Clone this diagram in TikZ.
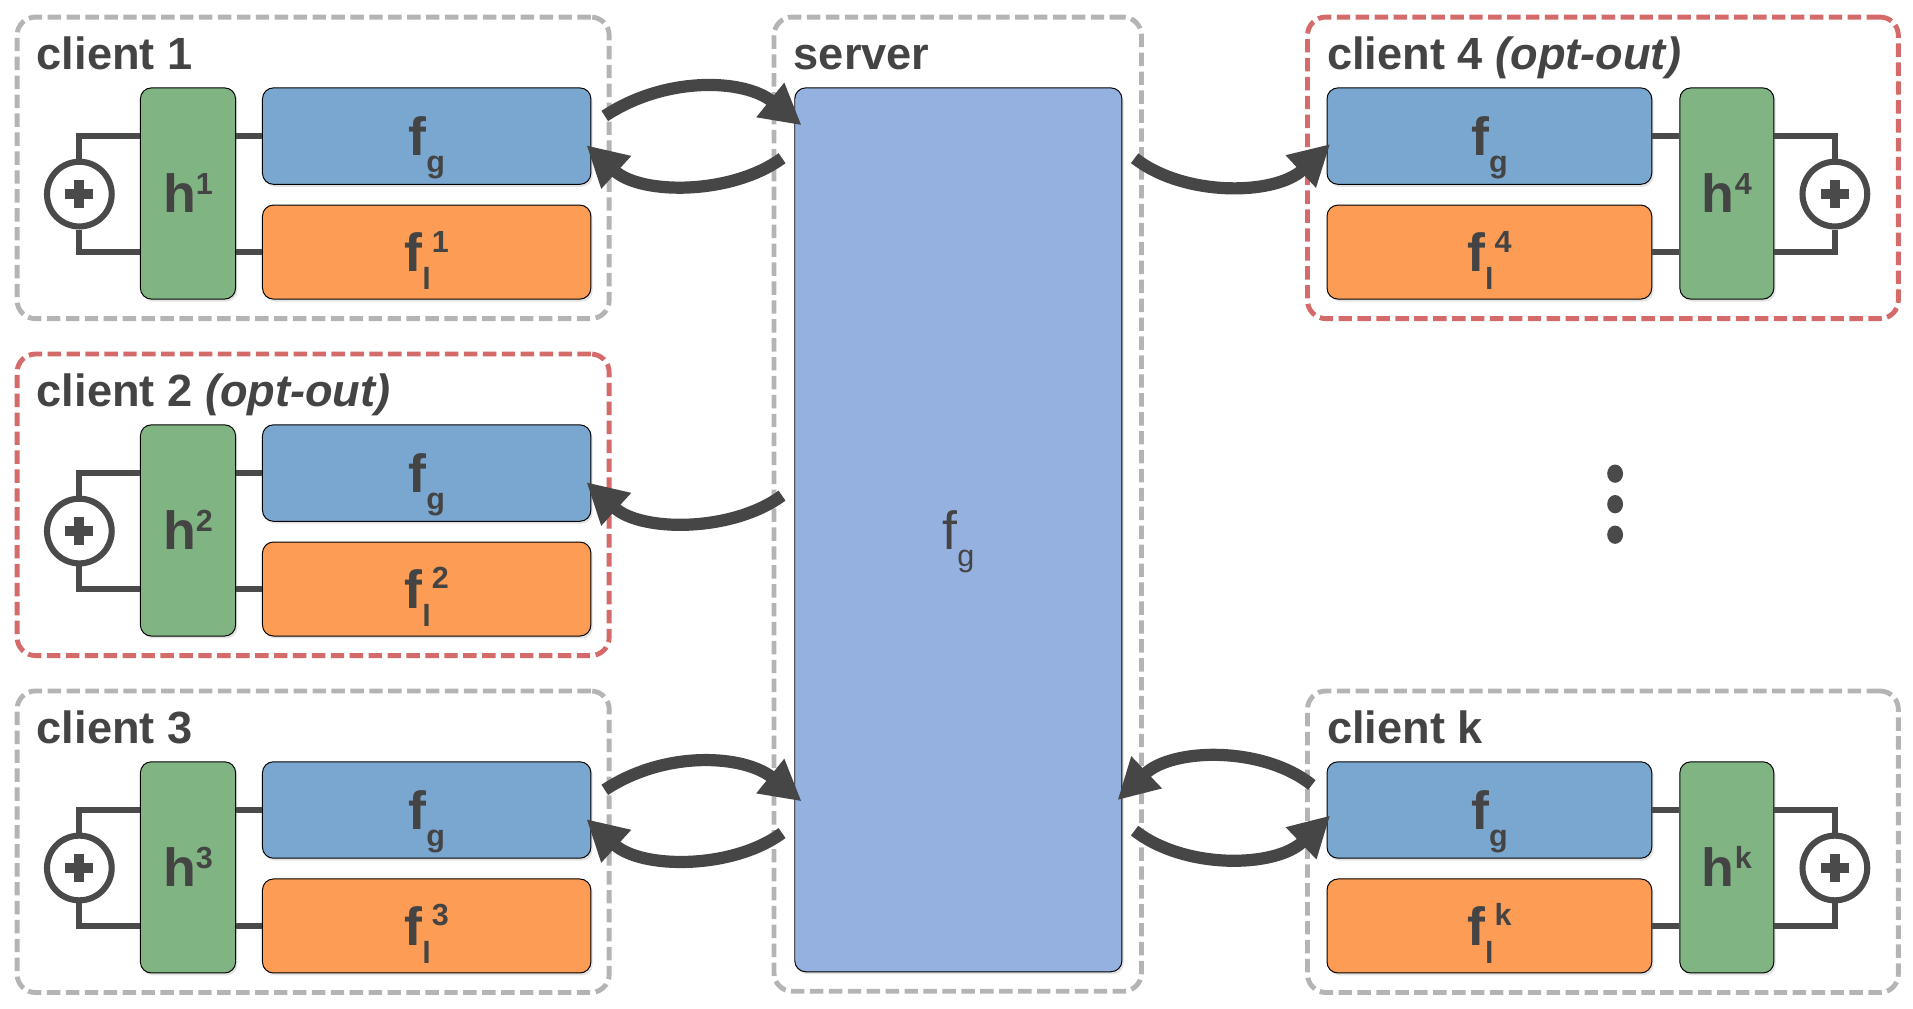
\documentclass[tikz,border=0pt]{standalone}
\usepackage{fontspec}
\setmainfont{Liberation Sans}
\usetikzlibrary{arrows.meta,shadows,calc}
\definecolor{fgblue}{HTML}{7AA7D0}
\definecolor{florange}{HTML}{FD9C54}
\definecolor{hgreen}{HTML}{80B482}
\definecolor{srvblue}{HTML}{95B1DF}
\definecolor{txtgray}{HTML}{444444}
\definecolor{wiregray}{HTML}{4A4A4A}
\definecolor{arrowgray}{HTML}{464646}
\definecolor{dashgray}{HTML}{B4B4B4}
\definecolor{dashred}{HTML}{D46A6A}

\newcommand\bigfont{\fontsize{44}{44}\selectfont\bfseries}
\newcommand\subfont{\fontsize{25}{25}\selectfont\bfseries}
\newcommand\fgtext{{\bigfont f}\smash{\raisebox{-14pt}{\subfont g}}}
\newcommand\fltext[1]{{\bigfont f}\smash{\raisebox{-15pt}{\subfont l}}\hspace{1pt}\smash{\raisebox{16pt}{\subfont #1}}}
\newcommand\htext[1]{{\bigfont h}\smash{\raisebox{15pt}{\subfont #1}}}
\newcommand\srvtext{{\fontsize{44}{44}\selectfont f}\smash{\raisebox{-14pt}{\fontsize{25}{25}\selectfont g}}}

\tikzset{
  dbox/.style={draw=dashgray, line width=4pt, dash pattern=on 11pt off 4.5pt, rounded corners=15pt, inner sep=0pt},
  cbox/.style={draw=black, line width=0.8pt, rounded corners=9pt, inner sep=0pt, text=txtgray,
    drop shadow={shadow xshift=1.5pt, shadow yshift=-2pt, opacity=0.22}},
  fgbox/.style={cbox, fill=fgblue},
  flbox/.style={cbox, fill=florange},
  hbox/.style={cbox, fill=hgreen},
  lbl/.style={text=txtgray, font=\fontsize{37}{40}\selectfont\bfseries, inner sep=0pt},
  wire/.style={draw=wiregray, line width=5pt},
  plusnode/.style={circle, draw=wiregray, line width=5pt, minimum size=53pt, inner sep=0pt},
  plusbar/.style={draw=wiregray, line width=8pt},
  flow/.style={draw=arrowgray, line width=10pt, -{Triangle[length=33pt,width=34pt]}},
}

% left client: #1 id/superscript, #2 top y, #3 label, #4 border colour
\newcommand\leftclient[4]{%
\begin{scope}[shift={(0,#2)}]
  \node[dbox, draw=#4, minimum width=485pt, minimum height=247pt] (c#1) at (256.5,123.5) {};
  \node[lbl, anchor=base west] (t#1) at (30,43) {#3};
  \node[fgbox, minimum width=269pt, minimum height=79pt] (fg#1) at (349.5,97.5) {\fgtext};
  \node[flbox, minimum width=269pt, minimum height=77pt] (fl#1) at (349.5,192.5) {\fltext{#1}};
  \node[hbox, minimum width=78pt, minimum height=173pt] (h#1) at (154,144.5) {\htext{#1}};
  \node[plusnode] (p#1) at (65,145) {};
  \draw[plusbar] ($(p#1.center)+(-11.5,0)$) -- ($(p#1.center)+(11.5,0)$);
  \draw[plusbar] ($(p#1.center)+(0,-11.5)$) -- ($(p#1.center)+(0,11.5)$);
  \draw[wire] (fg#1.west) -- (h#1.east |- fg#1.west);
  \draw[wire] (fl#1.west) -- (h#1.east |- fl#1.west);
  \draw[wire] (h#1.west |- fg#1.west) -| (p#1.north);
  \draw[wire] (h#1.west |- fl#1.west) -| (p#1.south);
\end{scope}}

\newcommand\rightclient[4]{%
\begin{scope}[shift={(0,#2)}]
  \node[dbox, draw=#4, minimum width=484pt, minimum height=247pt] (c#1) at (1313,123.5) {};
  \node[lbl, anchor=base west] (t#1) at (1087,43) {#3};
  \node[fgbox, minimum width=266pt, minimum height=79pt] (fg#1) at (1220,97.5) {\fgtext};
  \node[flbox, minimum width=266pt, minimum height=77pt] (fl#1) at (1220,192.5) {\fltext{#1}};
  \node[hbox, minimum width=77pt, minimum height=173pt] (h#1) at (1414.5,144.5) {\htext{#1}};
  \node[plusnode] (p#1) at (1503,145) {};
  \draw[plusbar] ($(p#1.center)+(-11.5,0)$) -- ($(p#1.center)+(11.5,0)$);
  \draw[plusbar] ($(p#1.center)+(0,-11.5)$) -- ($(p#1.center)+(0,11.5)$);
  \draw[wire] (fg#1.east) -- (h#1.west |- fg#1.east);
  \draw[wire] (fl#1.east) -- (h#1.west |- fl#1.east);
  \draw[wire] (h#1.east |- fg#1.east) -| (p#1.north);
  \draw[wire] (h#1.east |- fl#1.east) -| (p#1.south);
\end{scope}}

\begin{document}
\begin{tikzpicture}[x=1pt, y=-1pt]
\useasboundingbox (0,0) rectangle (1567,826);

% server
\node[dbox, minimum width=301pt, minimum height=798pt] (srvbox) at (784.5,413) {};
\node[lbl, anchor=base west] (tsrv) at (650,57) {server};
\node[cbox, fill=srvblue, minimum width=268pt, minimum height=724pt] (srv) at (785,434) {\srvtext};

% clients
\leftclient{1}{14}{client 1}{dashgray}
\leftclient{2}{290}{client 2 \textit{(opt-out)}}{dashred}
\leftclient{3}{566}{client 3}{dashgray}
\rightclient{4}{14}{client 4 \textit{(opt-out)}}{dashred}
\rightclient{k}{566}{client k}{dashgray}

% dots
\fill[wiregray] (1323,388) ellipse [x radius=6.5pt, y radius=7.5pt];
\fill[wiregray] (1323,413) ellipse [x radius=6.5pt, y radius=7.5pt];
\fill[wiregray] (1323,438) ellipse [x radius=6.5pt, y radius=7.5pt];

% connector end points
\coordinate (a1s) at ($(fg1.east)+(11,-16.5)$);
\coordinate (a1e) at ($(srv.north west)+(6,31)$);
\coordinate (b1s) at ($(srv.north west)+(-10,58)$);
\coordinate (b1e) at ($(fg1.east)+(-4,7.5)$);
\coordinate (b2s) at ($(srv.west)+(-10,-28)$);
\coordinate (b2e) at ($(fg2.east)+(-4,7.5)$);
\coordinate (a3s) at ($(fg3.east)+(11,-16.5)$);
\coordinate (a3e) at ($(srv.south west)+(6,-140)$);
\coordinate (b3s) at ($(srv.south west)+(-10,-114)$);
\coordinate (b3e) at ($(fg3.east)+(-4,7.5)$);
\coordinate (a4s) at ($(srv.north east)+(10,58)$);
\coordinate (a4e) at ($(fg4.west)+(3,6.5)$);
\coordinate (aks) at ($(fgk.west)+(-12,-20.5)$);
\coordinate (ake) at ($(srv.south east)+(-4,-141)$);
\coordinate (bks) at ($(srv.south east)+(10,-116)$);
\coordinate (bke) at ($(fgk.west)+(3,4.5)$);

% connectors
\draw[flow] (a1s) .. controls +(50,-33) and +(-47,-38) .. (a1e);
\draw[flow] (b1s) .. controls +(-41,30) and +(45,41) .. (b1e);
\draw[flow] (b2s) .. controls +(-41,30) and +(45,41) .. (b2e);
\draw[flow] (a3s) .. controls +(50,-33) and +(-47,-38) .. (a3e);
\draw[flow] (b3s) .. controls +(-41,30) and +(45,41) .. (b3e);
\draw[flow] (a4s) .. controls +(41,32) and +(-45,42) .. (a4e);
\draw[flow] (aks) .. controls +(-40,-32) and +(45,-43) .. (ake);
\draw[flow] (bks) .. controls +(41,32) and +(-45,43) .. (bke);
\end{tikzpicture}
\end{document}
